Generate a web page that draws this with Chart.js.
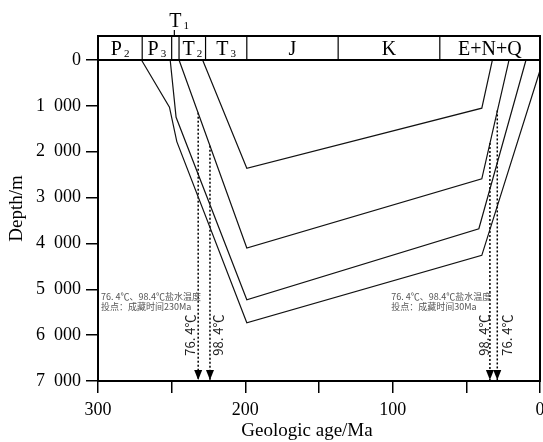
<!DOCTYPE html>
<html>
<head>
<meta charset="utf-8">
<script src="https://cdn.jsdelivr.net/npm/chart.js@4.4.0/dist/chart.umd.min.js"></script>
<style>
  html, body { margin: 0; padding: 0; background: #fff; }
</style>
</head>
<body>
<canvas id="burial" width="543" height="442"></canvas>
<script>
// burial history: geologic age (Ma) vs depth (m)
const ageTicks = [0, 50, 100, 150, 200, 250, 300];
const depthTicks = [0, 1000, 2000, 3000, 4000, 5000, 6000, 7000];

const curve1Age = [229, 199, 39.5, 32.3];
const curve1Depth = [0, 2360, 1050, 0];
const curve2Age = [245, 199, 39.5, 21];
const curve2Depth = [0, 4100, 2590, 0];
const curve3Age = [251, 247, 199, 41.5, 9.5];
const curve3Depth = [0, 1250, 5230, 3680, 0];
const curve4Age = [270.5, 251.5, 246.5, 199, 39.5, 0];
const curve4Depth = [0, 1030, 1780, 5730, 4260, 230];

// strata along the top
const periodNames = ["P", "P", "T", "T", "T", "J", "K", "E+N+Q"];
const periodSubs = ["2", "3", "1", "2", "3", "", "", ""];
const periodFrom = [300, 270, 250, 245, 227, 199, 137, 68];
const periodTo = [270, 250, 245, 227, 199, 137, 68, 0];

// inclusion temperatures projected to the age axis
const tempLabels = ["76. 4℃", "98. 4℃", "98. 4℃", "76. 4℃"];
const tempAge = [232, 224, 34, 29];
const tempDepth = [1150, 1870, 1810, 1100];
const noteLine1 = "76. 4℃、98.4℃盐水温度";
const noteLine2 = ["投点：成藏时间230Ma", "投点：成藏时间30Ma"];

const serif = "'Liberation Serif', 'Times New Roman', serif";
const cjk = "'Noto Sans CJK SC', 'Noto Sans', sans-serif";

function pts(ages, depths) {
  return ages.map((a, i) => ({ x: a, y: depths[i] }));
}

const curves = [
  pts(curve1Age, curve1Depth),
  pts(curve2Age, curve2Depth),
  pts(curve3Age, curve3Depth),
  pts(curve4Age, curve4Depth)
].map((d) => ({
  data: d,
  borderColor: "#111",
  borderWidth: 1.2,
  pointRadius: 0,
  fill: false,
  tension: 0
}));

const arrows = tempAge.map((a, i) => ({
  data: [{ x: a, y: tempDepth[i] }, { x: a, y: depthTicks[depthTicks.length - 1] }],
  borderColor: "#000",
  borderWidth: 1.5,
  borderDash: [2, 2],
  pointRadius: 0,
  fill: false,
  isArrow: true
}));

const frame = {
  id: "frame",
  afterDatasetsDraw(chart) {
    const { ctx, chartArea: a, scales: { x, y } } = chart;
    const y0 = y.getPixelForValue(0);
    ctx.save();
    ctx.strokeStyle = "#000";
    ctx.fillStyle = "#000";

    // box and header row
    ctx.lineWidth = 2;
    ctx.strokeRect(a.left, a.top, a.right - a.left, a.bottom - a.top);
    ctx.beginPath();
    ctx.moveTo(a.left, y0);
    ctx.lineTo(a.right, y0);
    ctx.stroke();

    ctx.lineWidth = 1.2;
    periodFrom.forEach((from, i) => {
      const p1 = x.getPixelForValue(from);
      const p2 = x.getPixelForValue(periodTo[i]);
      if (i > 0) {
        ctx.beginPath();
        ctx.moveTo(p1, a.top);
        ctx.lineTo(p1, y0);
        ctx.stroke();
      }
      const cx = (p1 + p2) / 2;
      ctx.font = "20px " + serif;
      const w = ctx.measureText(periodNames[i]).width;
      ctx.textBaseline = "alphabetic";
      ctx.textAlign = "left";
      if (p2 - p1 < 20) {
        // too narrow: label sits above the box
        ctx.fillText(periodNames[i], cx - w / 2, a.top - 9);
        ctx.font = "11px " + serif;
        ctx.fillText(periodSubs[i], cx + w / 2 + 2, a.top - 7);
        ctx.beginPath();
        ctx.moveTo(cx - 1, a.top);
        ctx.lineTo(cx - 1, a.top - 6);
        ctx.stroke();
      } else {
        let sw = 0;
        if (periodSubs[i]) {
          ctx.font = "11px " + serif;
          sw = ctx.measureText(periodSubs[i]).width + 2;
        }
        const left = cx - (w + sw) / 2;
        ctx.font = "20px " + serif;
        ctx.fillText(periodNames[i], left, y0 - 5);
        if (sw) {
          ctx.font = "11px " + serif;
          ctx.fillText(periodSubs[i], left + w + 2, y0 - 3);
        }
      }
    });

    // arrowheads and temperature labels
    const sideOff = [-8, 8, -6, 10];
    let k = 0;
    chart.data.datasets.forEach((ds, di) => {
      if (!ds.isArrow) return;
      const meta = chart.getDatasetMeta(di);
      const end = meta.data[meta.data.length - 1];
      ctx.beginPath();
      ctx.moveTo(end.x, a.bottom - 1);
      ctx.lineTo(end.x - 4, a.bottom - 11);
      ctx.lineTo(end.x + 4, a.bottom - 11);
      ctx.closePath();
      ctx.fill();

      ctx.save();
      ctx.translate(end.x + sideOff[k], y.getPixelForValue(6000));
      ctx.rotate(-Math.PI / 2);
      ctx.font = "13px " + cjk;
      ctx.textAlign = "center";
      ctx.textBaseline = "middle";
      ctx.fillStyle = "#222";
      ctx.fillText(tempLabels[k], 0, 0);
      ctx.restore();
      k++;
    });

    // notes
    ctx.font = "9px " + cjk;
    ctx.fillStyle = "#555";
    ctx.textAlign = "left";
    ctx.textBaseline = "middle";
    [298, 101].forEach((age, i) => {
      const nx = x.getPixelForValue(age);
      const ny = y.getPixelForValue(5150);
      ctx.fillText(noteLine1, nx, ny);
      ctx.fillText(noteLine2[i], nx, ny + 10);
    });

    // axis titles
    ctx.fillStyle = "#000";
    ctx.font = "19px " + serif;
    ctx.textAlign = "center";
    ctx.fillText("Geologic age/Ma", (a.left + a.right) / 2 - 12, 431);
    ctx.save();
    ctx.translate(17, (a.top + a.bottom) / 2);
    ctx.rotate(-Math.PI / 2);
    ctx.fillText("Depth/m", 0, 0);
    ctx.restore();

    ctx.restore();
  }
};

new Chart(document.getElementById("burial"), {
  type: "line",
  data: { datasets: curves.concat(arrows) },
  options: {
    responsive: false,
    animation: false,
    devicePixelRatio: 1,
    layout: { padding: { top: 36, right: 3, left: 0, bottom: 0 } },
    plugins: { legend: { display: false }, tooltip: { enabled: false } },
    scales: {
      x: {
        type: "linear",
        reverse: true,
        min: ageTicks[0],
        max: ageTicks[ageTicks.length - 1],
        afterBuildTicks: (s) => { s.ticks = ageTicks.map((v) => ({ value: v })); },
        afterFit: (s) => { s.height = 61; s.paddingLeft = 0; s.paddingRight = 0; },
        ticks: {
          font: { family: serif, size: 18 },
          color: "#000",
          padding: 6,
          maxRotation: 0,
          callback: (v) => (v % 100 === 0 ? String(v) : "")
        },
        grid: { drawOnChartArea: false, tickLength: 12, color: "#000", lineWidth: 1.5 },
        border: { display: true, color: "#000", width: 2 }
      },
      y: {
        type: "linear",
        reverse: true,
        min: -523,
        max: depthTicks[depthTicks.length - 1],
        afterBuildTicks: (s) => { s.ticks = depthTicks.map((v) => ({ value: v })); },
        afterFit: (s) => { s.width = 98; s.paddingTop = 0; s.paddingBottom = 0; },
        ticks: {
          font: { family: serif, size: 18 },
          color: "#000",
          padding: 5,
          callback: (v) => (v >= 1000 ? Math.floor(v / 1000) + "\u2002" + String(v % 1000).padStart(3, "0") : String(v))
        },
        grid: { drawOnChartArea: false, tickLength: 12, color: "#000", lineWidth: 1.5 },
        border: { display: true, color: "#000", width: 2 }
      }
    }
  },
  plugins: [frame]
});
</script>
</body>
</html>
